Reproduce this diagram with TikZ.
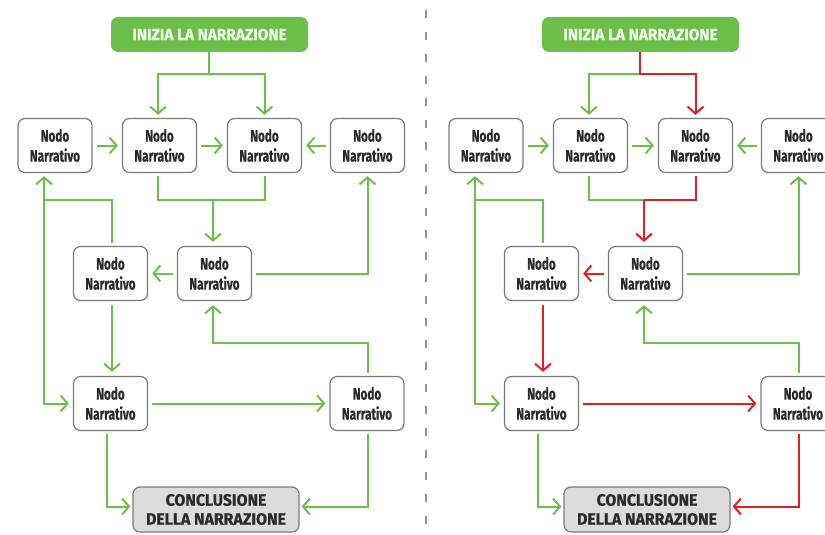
\documentclass[tikz,border=0pt]{standalone}
\usepackage{fontspec}
\setmainfont{Fira Sans}
\newfontfamily\nodefont{Fira Sans}[FakeStretch=0.71, BoldFeatures={FakeBold=0.6}]
\newfontfamily\capsfont{Fira Sans}[FakeStretch=0.96, BoldFeatures={FakeBold=0.6}]
\usetikzlibrary{arrows.meta}
\definecolor{gr}{HTML}{6CC04A}
\definecolor{rd}{HTML}{E31E24}
\definecolor{bd}{HTML}{7A7A7A}
\definecolor{txt}{HTML}{2B2B2B}
\definecolor{cf}{HTML}{DCDCDC}
\definecolor{st}{HTML}{EEF8E8}
\tikzset{
  nn/.style={draw=bd, line width=1.2pt, fill=white, rounded corners=7pt,
    minimum width=74pt, minimum height=54pt, inner sep=0pt, align=center,
    text=txt, font=\nodefont\fontsize{16.5}{20}\selectfont\bfseries},
  startbox/.style={fill=gr, rounded corners=7pt, minimum width=197pt, minimum height=35pt,
    inner sep=0pt, text=st, font=\capsfont\fontsize{16}{19}\selectfont\bfseries},
  endbox/.style={draw=bd, line width=1.2pt, fill=cf, rounded corners=7pt,
    minimum width=166pt, minimum height=45pt, inner sep=0pt, align=center,
    text=txt, font=\capsfont\fontsize{16.5}{19}\selectfont\bfseries},
  ln/.style={line width=2pt, line join=miter},
  g/.style={ln, draw=gr},
  r/.style={ln, draw=rd},
  arr/.style={-{Straight Barb[length=7pt,width=16pt]}},
  gap/.style={shorten <=4pt, shorten >=4pt},
  divider/.style={draw=bd!80, line width=2pt, dash pattern=on 8pt off 14pt}
}
\begin{document}
\begin{tikzpicture}[x=1pt,y=-1pt]
\useasboundingbox (0,0) rectangle (825,535);
\clip (0,0) rectangle (825,535);
\draw[divider] (426,10) -- (426,535);
% ---------------- left panel ----------------
\node[startbox] (LS) at (209.5,34.5) {INIZIA LA NARRAZIONE};
\node[nn] (L1) at (55,145.5) {Nodo\\Narrativo};
\node[nn] (L2) at (159.5,145.5) {Nodo\\Narrativo};
\node[nn] (L3) at (264.5,145.5) {Nodo\\Narrativo};
\node[nn] (L4) at (367.5,145.5) {Nodo\\Narrativo};
\node[nn] (L5) at (110.5,273.5) {Nodo\\Narrativo};
\node[nn] (L6) at (214.5,273.5) {Nodo\\Narrativo};
\node[nn] (L7) at (110.5,403.5) {Nodo\\Narrativo};
\node[nn] (L8) at (367,403.5) {Nodo\\Narrativo};
\node[endbox] (LC) at (216,509.5) {CONCLUSIONE\\DELLA NARRAZIONE};
\coordinate (Lj1) at (209,74);
\coordinate (Lj2) at (213,200);
\coordinate (Lj3) at (44,200);
\draw[g] (LS.south -| Lj1) -- (Lj1);
\draw[g,arr,shorten >=3pt] (Lj1) -| ([xshift=-1.5pt]L2.north);
\draw[g,arr,shorten >=3pt] (Lj1) -| (L3.north);
\draw[g,arr,gap] (L1) -- (L2);
\draw[g,arr,gap] (L2) -- (L3);
\draw[g,arr,gap] (L4) -- (L3);
\draw[g,shorten <=3pt] ([xshift=-1.5pt]L2.south) |- (Lj2);
\draw[g,shorten <=3pt] (L3.south) |- (Lj2);
\draw[g,arr,shorten >=4pt] (Lj2) -- (Lj2 |- L6.north);
\draw[g,arr,gap] (L6) -- (L5);
\draw[g,arr,shorten <=4pt,shorten >=3pt] (L6.east) -| (L4.south);
\draw[g,shorten <=3pt] ([xshift=1.5pt]L5.north) |- (Lj3);
\draw[g,arr,shorten >=3pt] (Lj3) -- (Lj3 |- L1.south);
\draw[g,arr,shorten >=4pt] (Lj3) |- (L7.west);
\draw[g,arr,gap] ([xshift=1.5pt]L5.south) -- ([xshift=1.5pt]L7.north);
\draw[g,arr,gap] (L7) -- (L8);
\draw[g,arr,shorten <=3pt,shorten >=4pt] ([xshift=1pt]L8.north) |- (213,343) -- (L6.south -| Lj2);
\draw[g,arr,shorten <=3pt,shorten >=2pt] ([xshift=-3.5pt]L7.south) |- ([yshift=3pt]LC.west);
\draw[g,arr,shorten <=3pt,shorten >=2pt] ([xshift=1pt]L8.south) |- ([yshift=3pt]LC.east);
% ---------------- right panel ----------------
\node[startbox] (RS) at (640.5,34.5) {INIZIA LA NARRAZIONE};
\node[nn] (R1) at (486,145.5) {Nodo\\Narrativo};
\node[nn] (R2) at (590.5,145.5) {Nodo\\Narrativo};
\node[nn] (R3) at (695.5,145.5) {Nodo\\Narrativo};
\node[nn] (R4) at (798.5,145.5) {Nodo\\Narrativo};
\node[nn] (R5) at (541.5,273.5) {Nodo\\Narrativo};
\node[nn] (R6) at (645.5,273.5) {Nodo\\Narrativo};
\node[nn] (R7) at (541.5,403.5) {Nodo\\Narrativo};
\node[nn] (R8) at (798,403.5) {Nodo\\Narrativo};
\node[endbox] (RC) at (647,509.5) {CONCLUSIONE\\DELLA NARRAZIONE};
\coordinate (Rj1) at (640,74);
\coordinate (Rj2) at (644,200);
\coordinate (Rj3) at (475,200);
\draw[g,arr,shorten >=3pt] (Rj1) -| ([xshift=-1.5pt]R2.north);
\draw[g,shorten <=3pt] ([xshift=-1.5pt]R2.south) |- (Rj2);
\draw[g,arr,shorten <=4pt,shorten >=3pt] (R6.east) -| (R4.south);
\draw[g,shorten <=3pt] ([xshift=1.5pt]R5.north) |- (Rj3);
\draw[g,arr,shorten >=3pt] (Rj3) -- (Rj3 |- R1.south);
\draw[g,arr,shorten >=4pt] (Rj3) |- (R7.west);
\draw[g,arr,gap] (R1) -- (R2);
\draw[g,arr,gap] (R2) -- (R3);
\draw[g,arr,gap] (R4) -- (R3);
\draw[g,arr,shorten <=3pt,shorten >=4pt] ([xshift=1pt]R8.north) |- (644,343) -- (R6.south -| Rj2);
\draw[g,arr,shorten <=3pt,shorten >=2pt] ([xshift=-3.5pt]R7.south) |- ([yshift=3pt]RC.west);
\draw[r,arr,shorten >=3pt] (RS.south -| Rj1) -- (Rj1) -| (R3.north);
\draw[r,shorten <=3pt] (R3.south) |- (Rj2);
\draw[r,arr,shorten >=4pt] (Rj2) -- (Rj2 |- R6.north);
\draw[r,arr,gap] (R6) -- (R5);
\draw[r,arr,gap] ([xshift=1.5pt]R5.south) -- ([xshift=1.5pt]R7.north);
\draw[r,arr,gap] (R7) -- (R8);
\draw[r,arr,shorten <=3pt,shorten >=2pt] ([xshift=1pt]R8.south) |- ([yshift=3pt]RC.east);
\end{tikzpicture}
\end{document}
